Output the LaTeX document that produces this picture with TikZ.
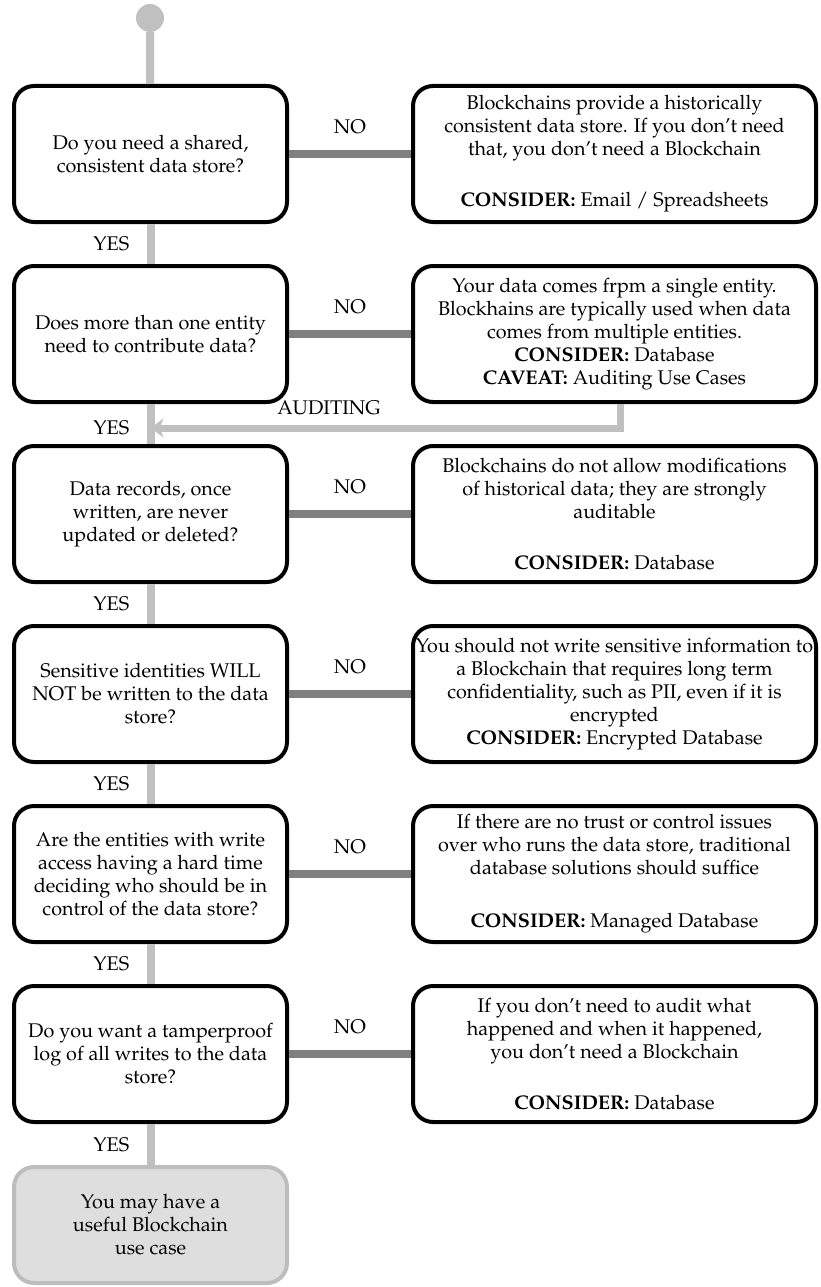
\documentclass[tikz,border=0pt]{standalone}
\usepackage[T1]{fontenc}
\usepackage{mathpazo}
\usepackage{tikz}
\usetikzlibrary{arrows.meta,calc}
\definecolor{yesgray}{HTML}{C0C0C0}
\definecolor{nogray}{HTML}{808080}
\definecolor{endfill}{HTML}{DEDEDE}
\definecolor{endedge}{HTML}{BDBDBD}
\tikzset{
    question/.style={draw, line width=4pt, rounded corners=20pt, align=center,
        minimum width=273pt, minimum height=136pt, inner sep=4pt},
    answer/.style={question, minimum width=403pt},
    yesline/.style={yesgray, line width=8pt},
    noline/.style={nogray, line width=8pt},
    yeslabel/.style={text=black, left=14pt},
    nolabel/.style={text=black, above=13pt},
}

\begin{document}
\begin{tikzpicture}[x=1pt, y=-1pt, font=\fontsize{19.8}{23}\selectfont]
    \useasboundingbox (0,0) rectangle (820,1287);
    \pgfmathsetmacro{\rowgap}{180}
    % start point
    \node [circle, fill=yesgray, minimum size=28pt, inner sep=0pt] (start) at (150,18) {};
    % questions on the left
    \node [question] (q1) at (150.5,154) {Do you need a shared,\\consistent data store?};
    \node [question] (q2) at (150.5,{154+\rowgap}) {Does more than one entity\\need to contribute data?};
    \node [question] (q3) at (150.5,{154+2*\rowgap}) {Data records, once\\written, are never\\updated or deleted?};
    \node [question] (q4) at (150.5,{154+3*\rowgap}) {Sensitive identities WILL\\NOT be written to the data\\store?};
    \node [question] (q5) at (150.5,{154+4*\rowgap}) {Are the entities with write\\access having a hard time\\deciding who should be in\\control of the data store?};
    \node [question] (q6) at (150.5,{154+5*\rowgap}) {Do you want a tamperproof\\log of all writes to the data\\store?};
    \node [question, draw=endedge, fill=endfill, minimum height=116pt] (final) at (150.5,1225) {You may have a\\useful Blockchain\\use case};
    % answers on the right
    \node [answer] (a1) at (614.5,154) {Blockchains provide a historically\\consistent data store. If you don't need\\that, you don't need a Blockchain\\[28pt]\textbf{CONSIDER:} Email / Spreadsheets};
    \node [answer] (a2) at (614.5,{154+\rowgap}) {Your data comes frpm a single entity.\\Blockhains are typically used when data\\comes from multiple entities.\\\textbf{CONSIDER:} Database\\\textbf{CAVEAT:} Auditing Use Cases};
    \node [answer] (a3) at (614.5,{154+2*\rowgap}) {Blockchains do not allow modifications\\of historical data; they are strongly\\auditable\\[28pt]\textbf{CONSIDER:} Database};
    \node [answer] (a4) at (614.5,{154+3*\rowgap}) {\makebox[0pt]{You should not write sensitive information to}\\a Blockchain that requires long term\\confidentiality, such as PII, even if it is\\encrypted\\\textbf{CONSIDER:} Encrypted Database};
    \node [answer] (a5) at (614.5,{154+4*\rowgap}) {If there are no trust or control issues\\over who runs the data store, traditional\\database solutions should suffice\\[30pt]\textbf{CONSIDER:} Managed Database};
    \node [answer] (a6) at (614.5,{154+5*\rowgap}) {If you don't need to audit what\\happened and when it happened,\\you don't need a Blockchain\\[28pt]\textbf{CONSIDER:} Database};
    % yes path down the left
    \draw [yesline] (start) -- (q1);
    \draw [yesline] (q1) -- (q2) node [midway, yeslabel] {YES};
    \draw [yesline] (q2) -- (q3) node [pos=0.6, yeslabel] {YES};
    \draw [yesline] (q3) -- (q4) node [midway, yeslabel] {YES};
    \draw [yesline] (q4) -- (q5) node [midway, yeslabel] {YES};
    \draw [yesline] (q5) -- (q6) node [midway, yeslabel] {YES};
    \draw [yesline] (q6) -- (final) node [midway, yeslabel] {YES};
    % no branches
    \foreach \i in {1,...,6}
        \draw [noline] (q\i) -- (a\i) node [midway, nolabel] {NO};
    % auditing loops back
    \coordinate (join) at ($(q2.south)!0.6!(q3.north)$);
    \draw [yesline, line width=7pt, -{Stealth[length=13pt, width=19pt, inset=4pt]}]
        ([xshift=5.5pt]a2.south) |- (join)
        node [pos=0.81, text=black, above=6pt] {AUDITING};
\end{tikzpicture}
\end{document}
